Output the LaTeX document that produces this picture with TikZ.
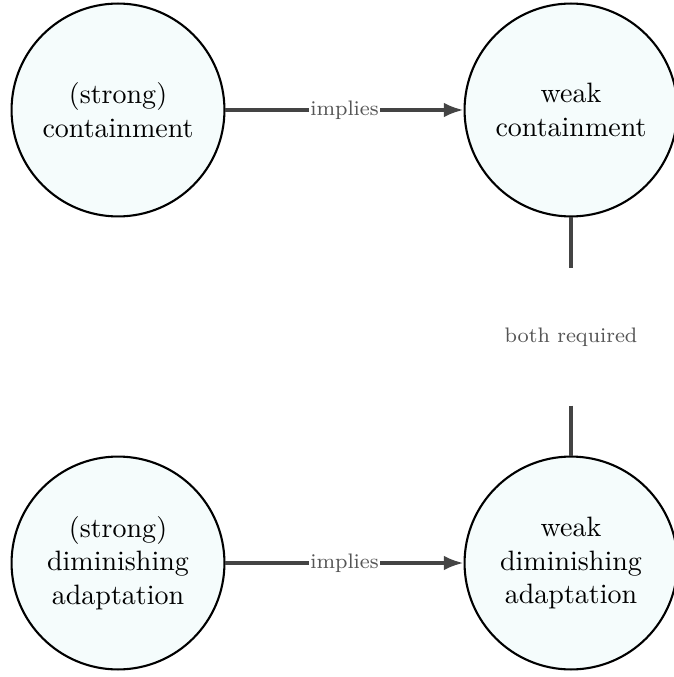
\documentclass[tikz,border=0pt]{standalone}
\usetikzlibrary{arrows.meta}
\definecolor{nodefill}{RGB}{245,252,252}
\definecolor{linkcol}{RGB}{68,68,68}
\definecolor{labcol}{RGB}{85,85,85}
\begin{document}
\begin{tikzpicture}[x=0.357pt,y=-0.357pt,
  concept/.style={circle,draw=black,line width=0.75pt,fill=nodefill,
    minimum size=76pt,inner sep=0pt,align=center,font=\normalsize},
  link/.style={draw=linkcol,line width=1.2pt},
  arrowlink/.style={link,-{Latex[length=7pt,width=5.2pt]}},
  linklabel/.style={font=\fontsize{7.5}{9}\selectfont,text=labcol,fill=white,inner sep=0.6pt},
  gaplabel/.style={font=\fontsize{7.5}{9}\selectfont,text=labcol,inner sep=0pt,minimum height=48.6pt}]
\useasboundingbox (0,0) rectangle (673,677);
\node[concept] (sc) at (118,110) {(strong)\\containment};
\node[concept] (wc) at (571,110) {weak\\containment};
\node[concept] (sd) at (118,563) {(strong)\\diminishing\\adaptation};
\node[concept] (wd) at (571,563) {weak\\diminishing\\adaptation};
\node[gaplabel] (br) at (571,337) {both required};
\draw[arrowlink] (sc) -- node[linklabel] (l1) {implies} (wc);
\draw[arrowlink] (sd) -- node[linklabel] (l2) {implies} (wd);
\draw[link] (wc) -- (br);
\draw[link] (br) -- (wd);
\end{tikzpicture}
\end{document}
